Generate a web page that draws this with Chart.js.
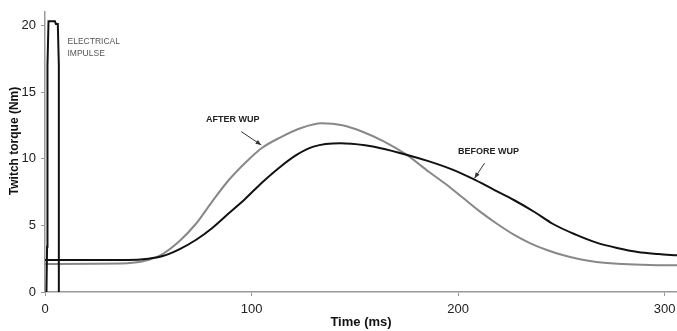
<!DOCTYPE html>
<html>
<head>
<meta charset="utf-8">
<script src="https://cdn.jsdelivr.net/npm/chart.js@4/dist/chart.umd.min.js"></script>
<style>
  html, body { margin: 0; padding: 0; background: #fff; }
  #wrap { width: 677px; height: 331px; }
</style>
</head>
<body>
<div id="wrap"><canvas id="chart" width="677" height="331"></canvas></div>
<script>
// ── Data (time in ms, torque in Nm) ───────────────────────────────────────────
const IMPULSE_T = [0.7, 1.0, 1.2, 1.7, 4.8, 5.3, 6.2, 6.7, 6.7];
const IMPULSE_Y = [0,   3.4, 17,  20.3, 20.3, 20.1, 20.1, 17, 0];

const BEFORE_T = [0, 40, 50, 57, 65, 73, 81, 89, 97, 105, 114, 122, 130, 143, 155, 162, 175, 186, 197, 207, 217, 227, 237, 246, 257, 267, 277, 287, 297, 306];
const BEFORE_Y = [2.4, 2.4, 2.5, 2.7, 3.2, 3.9, 4.8, 5.9, 7.0, 8.2, 9.4, 10.3, 10.9, 11.15, 11.0, 10.8, 10.3, 9.8, 9.2, 8.5, 7.7, 6.9, 6.0, 5.1, 4.3, 3.7, 3.3, 3.0, 2.85, 2.75];

const AFTER_T = [0, 40, 50, 57, 65, 73, 81, 89, 97, 105, 114, 124, 134, 144, 154, 164, 175, 186, 194, 202, 210, 219, 227, 235, 243, 251, 259, 267, 280, 293, 306];
const AFTER_Y = [2.1, 2.15, 2.4, 2.85, 3.8, 5.1, 6.8, 8.4, 9.7, 10.8, 11.6, 12.3, 12.65, 12.5, 12.0, 11.3, 10.3, 9.0, 8.1, 7.1, 6.1, 5.1, 4.3, 3.65, 3.15, 2.75, 2.45, 2.25, 2.1, 2.03, 2.0];

const X_TICKS = [0, 100, 200, 300];
const Y_TICKS = [0, 5, 10, 15, 20];

// annotation labels, placed in data units
const NOTES = [
    { text: 'ELECTRICAL', x: 10.9, y: 18.74, font: '8.5px "Liberation Sans", Arial, sans-serif', color: '#555' },
    { text: 'IMPULSE',    x: 10.9, y: 17.9,  font: '8.5px "Liberation Sans", Arial, sans-serif', color: '#555' },
    { text: 'AFTER WUP',  x: 78,   y: 12.95, font: 'bold 9px "Liberation Sans", Arial, sans-serif', color: '#222' },
    { text: 'BEFORE WUP', x: 200,  y: 10.5,  font: 'bold 9px "Liberation Sans", Arial, sans-serif', color: '#222' },
];
const ARROWS = [
    { from: [95, 12.03],   to: [104.7, 11.03] },
    { from: [212.8, 9.66], to: [208, 8.54] },
];

const pts = (ts, ys) => ts.map((t, i) => ({ x: t, y: ys[i] }));

// ── Annotation + axis title plugin ────────────────────────────────────────────
const notesPlugin = {
    id: 'notes',
    afterDatasetsDraw(chart) {
        const { ctx, scales: { x, y }, chartArea } = chart;
        ctx.save();
        ctx.textBaseline = 'middle';
        ctx.textAlign = 'left';
        NOTES.forEach(n => {
            ctx.font = n.font;
            ctx.fillStyle = n.color;
            ctx.fillText(n.text, x.getPixelForValue(n.x), y.getPixelForValue(n.y));
        });
        ctx.strokeStyle = '#333';
        ctx.fillStyle = '#333';
        ctx.lineWidth = 1;
        ARROWS.forEach(a => {
            const x1 = x.getPixelForValue(a.from[0]), y1 = y.getPixelForValue(a.from[1]);
            const x2 = x.getPixelForValue(a.to[0]),   y2 = y.getPixelForValue(a.to[1]);
            const ang = Math.atan2(y2 - y1, x2 - x1);
            ctx.beginPath(); ctx.moveTo(x1, y1); ctx.lineTo(x2, y2); ctx.stroke();
            ctx.beginPath();
            ctx.moveTo(x2, y2);
            ctx.lineTo(x2 - 6 * Math.cos(ang - 0.4), y2 - 6 * Math.sin(ang - 0.4));
            ctx.lineTo(x2 - 6 * Math.cos(ang + 0.4), y2 - 6 * Math.sin(ang + 0.4));
            ctx.closePath(); ctx.fill();
        });
        // axis titles
        ctx.fillStyle = '#111';
        ctx.textAlign = 'center';
        ctx.font = 'bold 13px "Liberation Sans", Arial, sans-serif';
        ctx.fillText('Time (ms)', (chartArea.left + chartArea.right) / 2, 322);
        ctx.font = 'bold 12px "Liberation Sans", Arial, sans-serif';
        ctx.translate(15, 141);
        ctx.rotate(-Math.PI / 2);
        ctx.fillText('Twitch torque (Nm)', 0, 0);
        ctx.restore();
    }
};

const axisGrid   = { drawOnChartArea: false, drawTicks: true, tickLength: 4, color: '#999' };
const axisBorder = { color: '#999', width: 1.5 };
const tickFont   = { family: "'Liberation Sans', Arial, sans-serif", size: 13 };

new Chart(document.getElementById('chart'), {
    type: 'line',
    data: {
        datasets: [
            { label: 'Impulse', data: pts(IMPULSE_T, IMPULSE_Y), borderColor: '#111', borderWidth: 2, tension: 0 },
            { label: 'Before WUP', data: pts(BEFORE_T, BEFORE_Y), borderColor: '#111', borderWidth: 2, cubicInterpolationMode: 'monotone' },
            { label: 'After WUP', data: pts(AFTER_T, AFTER_Y), borderColor: '#888', borderWidth: 2, cubicInterpolationMode: 'monotone' },
        ]
    },
    options: {
        responsive: false,
        animation: false,
        layout: { padding: { top: 12, right: 0, left: 0, bottom: 0 } },
        elements: { point: { radius: 0 } },
        plugins: { legend: { display: false }, tooltip: { enabled: false } },
        scales: {
            x: {
                type: 'linear', min: 0, max: 306,
                afterBuildTicks: s => { s.ticks = X_TICKS.map(v => ({ value: v })); },
                afterFit: s => { s.height = 39; s.paddingLeft = 0; s.paddingRight = 0; },
                ticks: { font: tickFont, color: '#222', padding: 6, maxRotation: 0, autoSkip: false },
                grid: axisGrid, border: axisBorder
            },
            y: {
                type: 'linear', min: 0, max: 21,
                afterBuildTicks: s => { s.ticks = Y_TICKS.map(v => ({ value: v })); },
                afterFit: s => { s.width = 45; s.paddingTop = 0; s.paddingBottom = 0; },
                ticks: { font: tickFont, color: '#222', padding: 5 },
                grid: axisGrid, border: axisBorder
            }
        }
    },
    plugins: [notesPlugin]
});
</script>
</body>
</html>
